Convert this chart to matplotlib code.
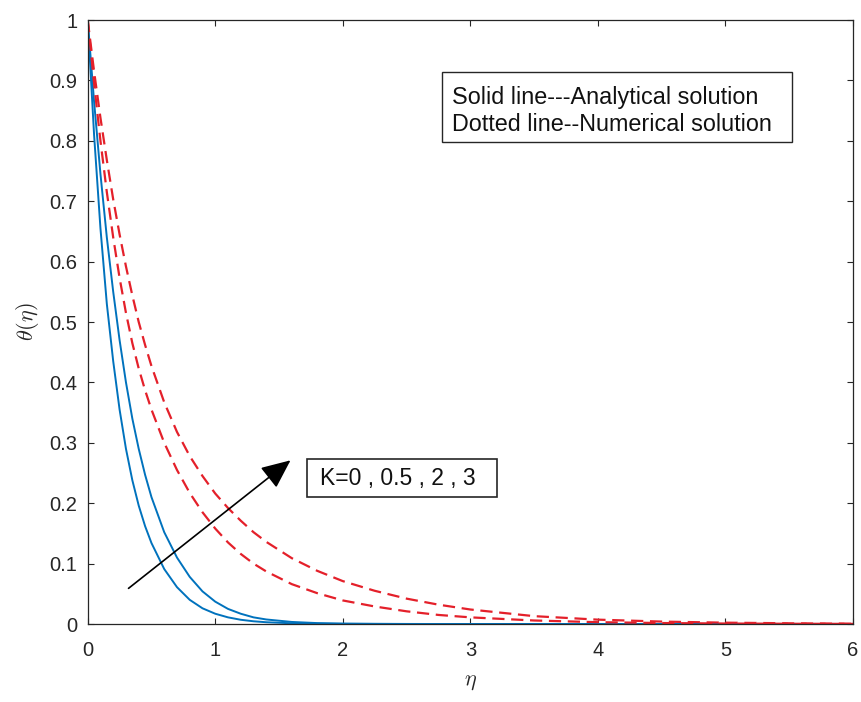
import matplotlib
matplotlib.use("Agg")
import matplotlib.pyplot as plt
from matplotlib.patches import Rectangle
from matplotlib.ticker import FormatStrFormatter

plt.rcParams['font.family'] = ['Liberation Sans', 'DejaVu Sans']
plt.rcParams['mathtext.fontset'] = 'cm'

# ---- data ----
eta = [0, 0.05, 0.1, 0.15, 0.2, 0.25, 0.3, 0.35, 0.4, 0.45, 0.5, 0.6, 0.7, 0.8, 0.9,
       1.0, 1.1, 1.2, 1.3, 1.4, 1.6, 1.8, 2.0, 2.25, 2.5, 2.75, 3.0, 3.5, 4.0, 4.5,
       5.0, 5.5, 6.0]

blue_inner = [1, 0.81, 0.655, 0.53, 0.435, 0.355, 0.29, 0.238, 0.196, 0.162, 0.134,
              0.091, 0.061, 0.040, 0.026, 0.017, 0.011, 0.007, 0.0045, 0.0029, 0.0012,
              0.0005, 0.0002, 0.0001, 0, 0, 0, 0, 0, 0, 0, 0, 0]
blue_outer = [1, 0.865, 0.745, 0.64, 0.55, 0.47, 0.40, 0.34, 0.29, 0.247, 0.21,
              0.152, 0.11, 0.078, 0.054, 0.037, 0.025, 0.017, 0.011, 0.0075, 0.0034,
              0.0015, 0.0007, 0.0003, 0.0001, 0, 0, 0, 0, 0, 0, 0, 0]
red_inner = [1, 0.895, 0.80, 0.715, 0.64, 0.573, 0.515, 0.465, 0.423, 0.387, 0.355,
             0.30, 0.255, 0.217, 0.185, 0.158, 0.135, 0.116, 0.10, 0.087, 0.066,
             0.051, 0.039, 0.029, 0.021, 0.015, 0.011, 0.0058, 0.003, 0.0016, 0.0008,
             0.0004, 0.0002]
red_outer = [1, 0.915, 0.838, 0.768, 0.703, 0.645, 0.592, 0.544, 0.50, 0.462, 0.427,
             0.367, 0.318, 0.278, 0.245, 0.216, 0.192, 0.171, 0.152, 0.136, 0.109,
             0.088, 0.071, 0.055, 0.042, 0.032, 0.024, 0.013, 0.0072, 0.004, 0.0022,
             0.0012, 0.0006]

xticks = [0, 1, 2, 3, 4, 5, 6]
yticks = [0, 0.1, 0.2, 0.3, 0.4, 0.5, 0.6, 0.7, 0.8, 0.9, 1.0]

legend_lines = ["Solid line---Analytical solution", "Dotted line--Numerical solution"]
k_label = "K=0 , 0.5 , 2 , 3"
arrow_start = (0.32, 0.059)
arrow_end = (1.59, 0.271)

# ---- figure ----
W, H = 862, 702
fig = plt.figure(figsize=(W / 100, H / 100), dpi=100)
ax = fig.add_axes([87.7 / W, 1 - 624 / H, (853 - 87.7) / W, (624 - 20) / H])

BLUE = '#0072BD'
RED = '#e4202a'
AX = '#262626'

ax.plot(eta, blue_inner, color=BLUE, lw=1.4)
ax.plot(eta, blue_outer, color=BLUE, lw=1.4)
ax.plot(eta, red_inner, color=RED, lw=1.6, dashes=(5.5, 3))
ax.plot(eta, red_outer, color=RED, lw=1.6, dashes=(5.5, 3))

ax.set_xlim(0, 6)
ax.set_ylim(0, 1)
ax.set_xticks(xticks)
ax.set_yticks(yticks)
ax.xaxis.set_major_formatter(FormatStrFormatter('%g'))
ax.yaxis.set_major_formatter(FormatStrFormatter('%g'))
ax.tick_params(direction='in', length=4, width=0.8, color=AX, labelcolor=AX,
               labelsize=14.5, top=True, right=True)
ax.tick_params(axis='x', pad=12)
ax.tick_params(axis='y', pad=7.5)
for s in ax.spines.values():
    s.set_color(AX)
    s.set_linewidth(0.9)

ax.set_xlabel(r'$\eta$', fontsize=16, color=AX, labelpad=8)
ax.set_ylabel(r'$\theta(\eta)$', fontsize=16, color=AX, labelpad=6)

# legend-like text box
ax.add_patch(Rectangle((2.776, 0.7985), 5.52 - 2.776, 0.914 - 0.7985,
                       fill=True, facecolor='white', edgecolor=AX, lw=1.0, zorder=5))
ax.text(2.86, 0.8605, legend_lines[0], fontsize=16.8, color='#111111',
        ha='left', va='baseline', zorder=6)
ax.text(2.86, 0.816, legend_lines[1], fontsize=16.8, color='#111111',
        ha='left', va='baseline', zorder=6)

# K box
ax.add_patch(Rectangle((1.718, 0.21), 3.21 - 1.718, 0.273 - 0.21,
                       fill=True, facecolor='white', edgecolor=AX, lw=1.2, zorder=5))
ax.text(1.82, 0.2415, k_label, fontsize=16.5, color='#111111',
        ha='left', va='center', zorder=6)

# arrow
ax.annotate('', xy=arrow_end, xytext=arrow_start,
            arrowprops=dict(arrowstyle='-|>,head_length=0.9,head_width=0.4',
                            color='black', lw=1.2, mutation_scale=20,
                            shrinkA=0, shrinkB=0))

fig.savefig('out.png', dpi=100, facecolor='white')
